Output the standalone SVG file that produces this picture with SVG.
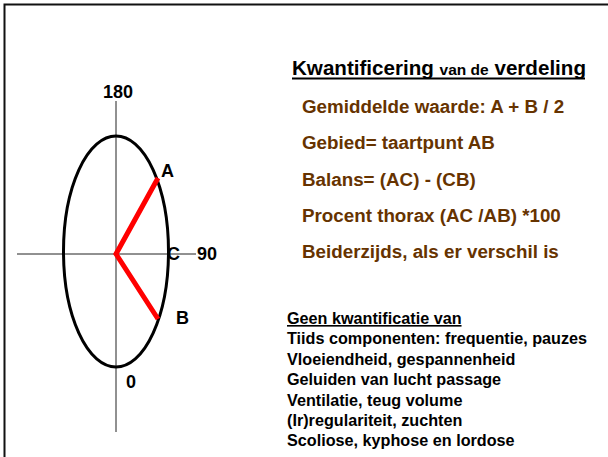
<svg xmlns="http://www.w3.org/2000/svg" width="608" height="457" viewBox="0 0 608 457">
<style>
text{font-family:"Liberation Sans",Arial,sans-serif;font-weight:bold}
.lbl{font-size:18px;fill:#000}
.br{font-size:18.8px;fill:#663300}
.sm{font-size:16.2px;fill:#000}
.axis{stroke:#222;stroke-width:1;fill:none}
.red{stroke:#ff0000;stroke-width:5;fill:none;stroke-linecap:butt}
</style>
<rect x="0" y="0" width="608" height="457" fill="#fff"/>
<g id="frame">
<polyline points="4.5,460 4.5,4.5 612,4.5" fill="none" stroke="#111" stroke-width="2"/>
</g>
<g id="axes">
<line class="axis" x1="116" y1="101" x2="116" y2="432"/>
<line class="axis" x1="17" y1="254" x2="196" y2="254"/>
</g>
<g id="ellipse">
<ellipse cx="116" cy="251.5" rx="52.5" ry="115.5" fill="none" stroke="#000" stroke-width="3"/>
</g>
<g id="connectors">
<polyline class="red" points="158,178 116,254 158,319"/>
</g>
<g id="labels">
<text class="lbl" x="103" y="98">180</text>
<text class="lbl" x="161" y="177">A</text>
<text class="lbl" x="167" y="260">C</text>
<text class="lbl" x="197" y="260">90</text>
<text class="lbl" x="176" y="324">B</text>
<text class="lbl" x="126" y="388">0</text>
</g>
<g id="title">
<text x="292" y="75" font-size="20.6" fill="#000">Kwantificering <tspan font-size="15.5">van de</tspan> verdeling</text>
<line x1="292" y1="78.5" x2="585" y2="78.5" stroke="#000" stroke-width="2"/>
</g>
<g id="quant">
<text class="br" x="302" y="113">Gemiddelde waarde: A + B / 2</text>
<text class="br" x="302" y="149">Gebied= taartpunt AB</text>
<text class="br" x="302" y="186">Balans= (AC) - (CB)</text>
<text class="br" x="302" y="222">Procent thorax (AC /AB) *100</text>
<text class="br" x="302" y="258">Beiderzijds, als er verschil is</text>
</g>
<g id="noquant">
<text class="sm" x="287" y="324" text-decoration="underline">Geen kwantificatie van</text>
<text class="sm" x="287" y="344.4">Tiids componenten: frequentie, pauzes</text>
<text class="sm" x="287" y="364.8">Vloeiendheid, gespannenheid</text>
<text class="sm" x="287" y="385.2">Geluiden van lucht passage</text>
<text class="sm" x="287" y="405.6">Ventilatie, teug volume</text>
<text class="sm" x="287" y="426">(Ir)regulariteit, zuchten</text>
<text class="sm" x="287" y="446.4">Scoliose, kyphose en lordose</text>
</g>
</svg>
